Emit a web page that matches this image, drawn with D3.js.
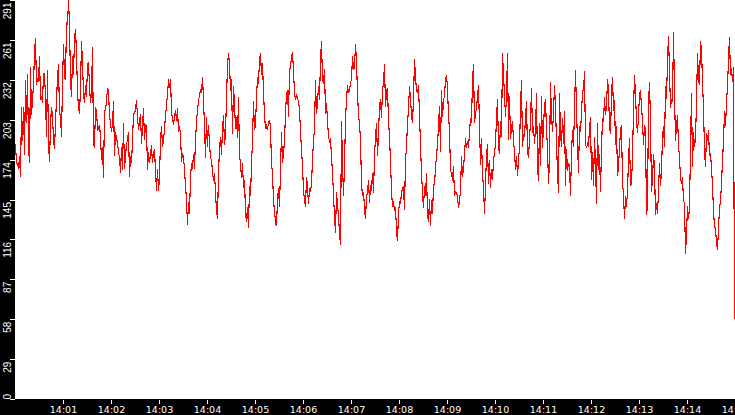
<!DOCTYPE html>
<html><head><meta charset="utf-8">
<script src="https://cdn.jsdelivr.net/npm/d3@7/dist/d3.min.js"></script>
<style>html,body{margin:0;padding:0;background:#000;overflow:hidden}</style>
</head><body>
<svg id="c" width="735" height="415"></svg>
<script>
// ---- data ----
const startTime = "14:00:00";
const endTime = "14:15:00";
const sampleSeconds = 1.25;

const seg1 = [186,172,172,168,177,162,213,188,213,178,
233,201,237,184,172,242,207,218,229,253,
263,229,234,231,250,218,220,216,237,237,
220,191,240,186,173,200,213,207,189,182,
202,218,235,244,208,207,191,230,259,234,
233,275,273,291,273,233,220,250,236,263,
270,252,224,213,208,227,261,245,223,216,
229,220,244,245,228,216,224,257,185,184,
212,211,196,197,200,191,174,184,161,210,
211,217,227,225,207,201,195,201,217,177,
195,189,188,179,177,165,184,167,201,168,
177,186,189,195,162,177,172,189,208,208,
211,218,206,196,202];

const seg2 = [208,186,199,212,189,200,199,167,180,172,
179,185,172,180,182,166,152,168,152,161,
189,199,184,188,197,207,214,222,233,227,
233,211,203,201,205,211,203,212,195,199,
193,173,179,177,167,156,145,127,144,135,
162,172,168,179,168,189,202,211,217,222,
225,223,235,218,199,176,206,184,200,186,
176,174,166,159,165,150,138,131,165,182,
191,178,197,207,185,194,219,244,252,244,
225,233,193,228,216,197,206,190,220,177,
172,161,172,154,160,137,129,140,125,155,
148,171,189,217,196,200,220,235,230,248,
252,236,245,224,208,197,199,196,202,203,
199,171,165,145,137,129,126,145,154,140,
167,195,172,178,189,208,223,225,206,240];

const seg3 = [242,250,253,239,224,218,222,219,217,211,
195,182,170,152,145,140,162,155,142,154,
151,157,174,189,196,233,208,216,228,218,
248,261,233,230,241,208,216,203,191,188,
190,177,165,149,133,121,151,142,133,121,
112,203,172,148,170,205,218,229,223,225,
231,233,250,240,242,259,246,223,207,201,
189,157,148,151,139,131,148,150,160,143,
156,152,165,150,178,191,201,177,194,213,
219,205,225,231,244,213,224,227,203,191,
173,152,140,144,137,140,123,115,135,144,
143,150,154,155,138,174,184,201,212,228,
219,207,201,219,248,235,225,223,229,207,
185,165,150,139,155,148,165,135,129,146,
126,145,135,156,157,168,178,185,200,214];

const seg4 = [180,225,206,217,222,233,236,227,207,196,
166,165,159,170,148,151,150,148,139,145,
152,177,162,168,179,190,183,188,183,194,
205,201,233,244,201,208,212,221,229,199,
171,190,163,155,135,156,178,186,157,174,
154,168,160,174,179,186,205,219,184,179,
203,191,252,237,222,206,221,252,189,221,
190,197,203,189,180,167,177,163,174,184,
213,233,184,193,191,206,217,180,176,190,
202,227,194,199,186,197,223,170,159,201,
170,221,183,200,213,219,196,184,157,174,
231,206,195,208,229,214,186,166,150,223,
194,184,205,186,210,155,182,166,172,170,
148,179,196,184,211,240,213,186,165,199,
195,208,225,225,239,186,183,186,184,197];

const seg5 = [206,160,180,155,191,172,142,201,167,179,
151,182,205,202,220,207,214,233,225,199,
193,222,235,210,218,185,199,163,169,183,
196,200,158,149,131,148,140,152,174,190,
156,157,176,211,236,222,203,194,206,222,
225,213,203,185,200,196,134,140,216,231,
203,151,160,179,169,134,143,135,152,172,
155,167,191,199,184,228,219,247,265,239,
212,219,217,268,224,188,199,207,185,176,
162,157,162,144,143,106,120,141,131,139,
184,223,169,195,184,190,216,252,233,229,
261,255,231,212,182,169,194,188,196,177,
179,168,156,137,126,124,114,109,124,139,
145,157,174,188,210,199,216,228,248,264,
236,241,231,242,58];

const yMax = 291;
const yTicks = [0, 29.1, 58.2, 87.3, 116.4, 145.5, 174.6, 203.7, 232.8, 261.9, 291];
const yTickLabels = ["0","29","58","87","116","145","174","203","232","261","291"];
const xTickLabels = ["14:01","14:02","14:03","14:04","14:05","14:06","14:07","14:08",
                     "14:09","14:10","14:11","14:12","14:13","14:14","14:15"];

// ---- chart ----
const W = 735, H = 415;
const plotLeft = 15, plotBottom = 399;
const parseT = d3.timeParse("%H:%M:%S");
const parseM = d3.timeParse("%H:%M");
const t0 = parseT(startTime), t1 = parseT(endTime);
const values = seg1.concat(seg2, seg3, seg4, seg5);
const data = values.map((v, i) => ({ t: new Date(+t0 + i * sampleSeconds * 1000), v }));

const svg = d3.select("#c");
svg.append("rect").attr("width", W).attr("height", H).attr("fill", "#000");
svg.append("rect").attr("x", plotLeft).attr("y", 0)
   .attr("width", W - plotLeft).attr("height", plotBottom).attr("fill", "#fff");

const x = d3.scaleTime().domain([t0, t1]).range([plotLeft + 0.5, W + 0.5]);
const y = d3.scaleLinear().domain([0, yMax]).range([plotBottom, 0]);

svg.append("path").datum(data)
   .attr("fill", "none").attr("stroke", "#ff0000").attr("stroke-width", 1.1)
   .attr("shape-rendering", "crispEdges")
   .attr("d", d3.line().x(d => x(d.t)).y(d => y(d.v)));

// x axis
const xAxis = svg.append("g").attr("transform", `translate(-0.5,${plotBottom + 1})`)
  .call(d3.axisBottom(x).tickValues(xTickLabels.map(parseM))
        .tickFormat(d3.timeFormat("%H:%M")).tickSize(4).tickPadding(2));
xAxis.select(".domain").remove();
xAxis.selectAll("line").attr("stroke", "#fff").attr("shape-rendering", "crispEdges");
xAxis.selectAll("text").attr("fill", "#fff")
  .style("font-family", "'DejaVu Sans', sans-serif").style("font-size", "9.5px");

// y axis
const yAxis = svg.append("g").attr("transform", `translate(${plotLeft},0)`)
  .call(d3.axisLeft(y).tickValues(yTicks)
        .tickFormat((d, i) => yTickLabels[i]).tickSize(5));
yAxis.select(".domain").remove();
yAxis.selectAll("line").attr("stroke", "#fff").attr("shape-rendering", "crispEdges");
yAxis.selectAll("text")
  .attr("x", null).attr("dy", null)
  .attr("fill", "#fff")
  .style("font-family", "'Liberation Sans', sans-serif").style("font-size", "10px")
  .attr("text-anchor", (d, i) => i === 0 ? "start" : "end")
  .attr("transform", (d, i) => i === 0 ? "translate(-4.5,0) rotate(-90)" : "translate(-4.5,2) rotate(-90)");
</script>
</body></html>
